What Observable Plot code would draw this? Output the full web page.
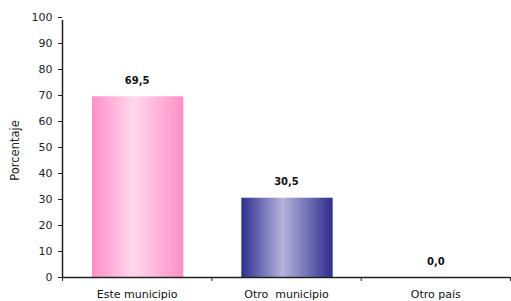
<!DOCTYPE html>
<html>
<head>
<meta charset="utf-8">
<script src="https://cdn.jsdelivr.net/npm/d3@7"></script>
<script src="https://cdn.jsdelivr.net/npm/@observablehq/plot@0.6"></script>
<style>
  html, body { margin: 0; padding: 0; background: #fff; }
  #chart { width: 511px; height: 301px; }
</style>
</head>
<body>
<div id="chart"></div>
<script>
const categories = ["Este municipio", "Otro  municipio", "Otro país"];
const values = [69.5, 30.5, 0.0];
const yTicks = [0, 10, 20, 30, 40, 50, 60, 70, 80, 90, 100];
const gradientIds = ["gPink", "gNavy", "gNavy"];

const data = categories.map((c, i) => ({cat: c, i, value: values[i], grad: gradientIds[i]}));
const fmt = v => v.toFixed(1).replace(".", ",");

const chart = Plot.plot({
  width: 511,
  height: 301,
  marginLeft: 62,
  marginRight: 1,
  marginTop: 17,
  marginBottom: 24,
  style: {fontFamily: "'DejaVu Sans', sans-serif", fontSize: "11px", color: "#222", background: "#fff"},
  x: {domain: [0, categories.length], axis: null},
  y: {domain: [0, 100], axis: null},
  marks: [
    Plot.rectY(data, {
      x1: d => d.i, x2: d => d.i + 1, y: "value",
      insetLeft: 30, insetRight: 28,
      fill: d => `url(#${d.grad})`
    }),
    Plot.text(data, {
      x: d => d.i + 0.5, y: "value", text: d => fmt(d.value),
      dy: -16, fontWeight: "bold", fontSize: 10, fill: "#111"
    }),
    Plot.axisY({ticks: yTicks, tickSize: 4, tickPadding: 6, label: null, fontSize: 11, stroke: "#222", fill: "#222"}),
    Plot.axisX({ticks: d3.range(categories.length + 1), tickSize: 4, tickFormat: () => "", label: null, stroke: "#222"}),
    Plot.text(data, {x: d => d.i + 0.5, y: 0, text: "cat", dy: 17, fontSize: 11, fill: "#111"}),
    Plot.ruleY([0], {stroke: "#222", strokeWidth: 1.5}),
    Plot.ruleX([0], {y1: 0, y2: 100, stroke: "#222", strokeWidth: 1.5, insetBottom: -3}),
    Plot.text(["Porcentaje"], {frameAnchor: "left", textAnchor: "middle", dx: -47, dy: 3, rotate: -90, fontSize: 11.5, fill: "#222"})
  ]
});

const svg = d3.select(chart);
const defs = svg.insert("defs", ":first-child");
function grad(id, edge, mid) {
  const g = defs.append("linearGradient").attr("id", id).attr("x1", "0%").attr("x2", "100%").attr("y1", "0%").attr("y2", "0%");
  g.append("stop").attr("offset", "0%").attr("stop-color", edge);
  g.append("stop").attr("offset", "45%").attr("stop-color", mid);
  g.append("stop").attr("offset", "100%").attr("stop-color", edge);
}
grad("gPink", "#ff8fc7", "#ffd8ec");
grad("gNavy", "#2e2e8f", "#b4b4dc");

document.getElementById("chart").appendChild(chart);
</script>
</body>
</html>
